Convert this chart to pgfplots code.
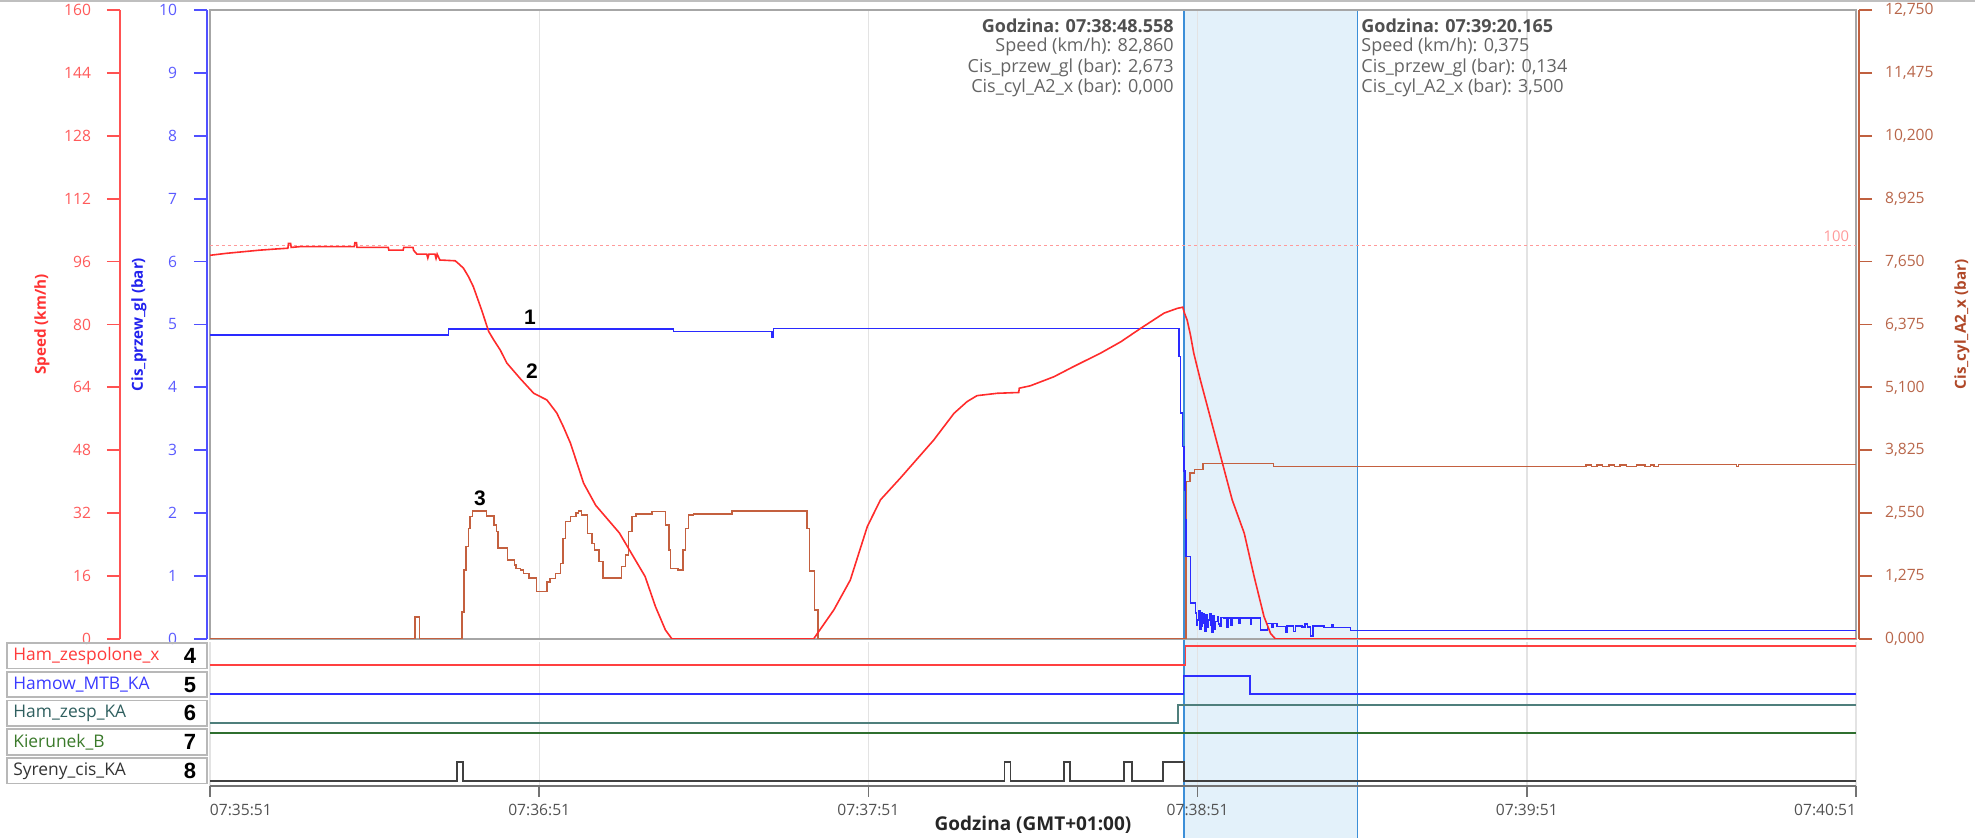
\documentclass[border=0pt]{standalone}
\usepackage{fontspec}
\setmainfont{Open Sans}
\newfontfamily\numfont{Liberation Sans}
\usepackage{pgfplots}
\pgfplotsset{compat=1.18}

\definecolor{spd}{HTML}{FF2B2B}
\definecolor{spdax}{HTML}{FF5252}
\definecolor{spdtick}{HTML}{FF5A5A}
\definecolor{spdlab}{HTML}{FF3333}
\definecolor{blu}{HTML}{2A2AFF}
\definecolor{bluax}{HTML}{5050FF}
\definecolor{blutick}{HTML}{5A5AFF}
\definecolor{blulab}{HTML}{2222EE}
\definecolor{brn}{HTML}{C4603F}
\definecolor{brnax}{HTML}{C0603F}
\definecolor{brntick}{HTML}{B8664A}
\definecolor{brnlab}{HTML}{B04828}
\definecolor{hlfill}{HTML}{E3F1FA}
\definecolor{hlline}{HTML}{3C8FD8}
\definecolor{pinkln}{HTML}{FF9A9A}
\definecolor{chred}{HTML}{FF4040}
\definecolor{chblue}{HTML}{2E2EFF}
\definecolor{chteal}{HTML}{4F7F7C}
\definecolor{chgreen}{HTML}{2F6F2F}
\definecolor{chgray}{HTML}{404040}
\definecolor{tipb}{HTML}{505050}
\definecolor{tip}{HTML}{646464}

\pgfplotsset{
  base/.style={scale only axis, width=823pt, xmin=0, xmax=300},
  deco/.style={scale only axis, width=10pt, height=314.5pt, xmin=0, xmax=1,
    axis x line=none, tick align=outside, major tick length=6.5pt,
    /pgf/number format/assume math mode=true,
    yticklabel style={font=\fontsize{7.8}{9}\selectfont}},
}
\newcommand\tickfont{\fontsize{7.8}{9}\selectfont}
\newcommand\tipfont{\fontsize{9}{10}\selectfont}

\begin{document}
\begin{tikzpicture}
\useasboundingbox (-105pt,-99.5pt) rectangle (882.5pt,319.5pt);
\draw[black!25, line width=0.8pt] (-105pt,319pt) -- (882.5pt,319pt);

% cursor range, full height
\begin{axis}[base, at={(0,-99.5pt)}, height=413.5pt, ymin=0, ymax=1, hide axis]
\addplot[fill=hlfill, draw=none] coordinates {(177.558,0) (177.558,1) (209.165,1) (209.165,0)} \closedcycle;
\addplot[hlline, line width=0.8pt] coordinates {(177.558,0) (177.558,1)};
\addplot[hlline, line width=0.8pt] coordinates {(209.165,0) (209.165,1)};
\end{axis}

% frame, grid, limit line
\begin{axis}[base, at={(0,0)}, height=314.5pt, ymin=0, ymax=160,
  axis line style={black!35, line width=0.7pt}, xtick={60,120,180,240}, xticklabels={},
  ytick=\empty, major tick length=0pt, xmajorgrids, grid style={black!11, line width=0.7pt}]
\addplot[pinkln, line width=0.6pt, dash pattern=on 1.6pt off 1.4pt] coordinates {(0,100) (300,100)};
\end{axis}

% Cis_cyl_A2_x
\begin{axis}[base, at={(0,0)}, height=314.5pt, ymin=0, ymax=12.75, hide axis, const plot]
\addplot[brn, line width=0.75pt] coordinates {
(0,0) (37.4,0.45) (38.2,0) (45.9,0.55) (46.3,1.40) (46.7,1.87) (47.1,2.24) (47.4,2.48)
(47.8,2.59) (50.4,2.49) (51.8,2.31) (52.2,2.18) (52.5,1.84) (54.2,1.60) (55.5,1.50)
(55.8,1.43) (56.6,1.40) (57.1,1.33) (58.1,1.24) (59.5,0.96) (61.4,1.16) (62.0,1.23)
(63.0,1.33) (63.9,1.53) (64.3,2.04) (64.8,2.38) (65.7,2.48) (66.7,2.55) (67.2,2.59)
(67.7,2.51) (68.8,2.14) (69.6,1.94) (70.1,1.80) (70.9,1.57) (71.6,1.24) (75.0,1.47)
(75.7,1.70) (76.3,2.18) (76.9,2.48) (77.6,2.53) (80.6,2.58) (83.0,2.31) (83.7,1.80)
(83.9,1.43) (85.3,1.40) (86.2,1.80) (86.7,2.24) (87.2,2.51) (88.1,2.53) (95.1,2.59)
(108.8,2.24) (109.3,1.38) (110.2,0.59) (110.8,0) (177.9,3.19) (178.6,3.36) (179.4,3.44)
(181.0,3.56) (193.8,3.50) (250.8,3.53) (251.8,3.50) (252.8,3.53) (253.8,3.50) (255.0,3.53)
(256.0,3.50) (257.0,3.53) (258.2,3.50) (260.0,3.53) (261.5,3.50) (262.5,3.53) (263.2,3.50)
(264.0,3.54) (278.2,3.50) (278.6,3.54) (300,3.54)};
\end{axis}

% Cis_przew_gl
\begin{axis}[base, at={(0,0)}, height=314.5pt, ymin=0, ymax=10, hide axis, const plot]
\addplot[blu, line width=0.75pt] coordinates {
(0,4.83) (43.5,4.93) (84.5,4.89) (102.4,4.80) (102.7,4.94) (176.6,4.49) (176.9,3.59)
(177.2,3.06) (177.5,2.67) (177.7,2.37) (177.8,1.89) (177.9,1.31) (178.7,0.57) (179.6,0.41)
(179.8,0.22) (180.0,0.30) (180.2,0.45) (180.4,0.15) (180.6,0.42) (180.8,0.20) (180.9,0.25)
(181.1,0.40) (181.3,0.12) (181.5,0.38) (181.7,0.18) (181.9,0.30) (182.2,0.40) (182.4,0.22)
(182.6,0.10) (182.8,0.37) (183.0,0.16) (183.2,0.28) (183.6,0.36) (183.8,0.24) (184.0,0.20)
(184.3,0.34) (184.8,0.33) (185.3,0.18) (185.5,0.33) (186.0,0.22) (186.3,0.33) (187.5,0.25)
(187.8,0.33) (189.0,0.33) (189.6,0.24) (189.8,0.33) (191.5,0.14) (192.7,0.25) (193.6,0.18)
(193.8,0.25) (194.5,0.20) (196.0,0.10) (196.3,0.21) (197.5,0.12) (197.8,0.21) (199.0,0.19)
(199.6,0.24) (200.0,0.19) (200.6,0.05) (201.0,0.21) (203.0,0.18) (204.5,0.22) (204.8,0.18)
(207.9,0.134) (300,0.134)};
\end{axis}

% Speed
\begin{axis}[base, at={(0,0)}, height=314.5pt, ymin=0, ymax=160, hide axis]
\addplot[spd, line width=0.8pt] coordinates {
(0,97.6) (3,98.1) (6,98.5) (9,98.9) (12,99.2) (14.2,99.4) (14.3,100.6) (14.7,100.6)
(14.8,99.6) (16.4,99.8) (26.3,99.8) (26.4,100.8) (26.7,100.8) (26.8,99.6) (32.5,99.6)
(32.6,98.9) (35.2,98.9) (35.3,99.6) (37.0,99.6) (37.1,98.9) (37.7,97.9) (39.5,97.9)
(39.7,96.9) (39.9,97.9) (41.0,97.9) (41.2,96.8) (41.4,97.9) (41.9,96.4) (44.7,96.2)
(45.6,95.1) (46.2,94.3) (47.1,92.2) (48.0,89.6) (49.5,83.7) (50.8,78.2) (51.7,76.1)
(52.9,73.5) (54.1,70.2) (56.5,66.3) (59.0,62.5) (61.4,60.8) (63.2,57.5) (64.4,54.0)
(65.7,49.8) (68.1,39.6) (70.3,34.0) (74.6,27.0) (79.3,15.9) (81.2,8.2) (83.0,2.3)
(84.2,0) (110.0,0) (113.7,7.4) (116.7,15.0) (119.8,28.6) (122.2,35.4) (125.8,40.9)
(131.9,50.6) (135.6,57.4) (138.0,60.4) (139.8,61.9) (143.5,62.5) (147.4,62.7) (147.5,63.8)
(149.5,64.4) (153.8,66.7) (157.4,69.3) (162.3,72.7) (166.0,75.6) (169.6,79.0) (173.9,82.9)
(176.3,84.1) (177.3,84.4) (177.6,82.9) (178.1,81.1) (178.7,77.3) (179.3,72.7) (180.5,65.9)
(186.3,35.4) (188.5,26.9) (190.3,15.9) (192.1,5.7) (193.3,1.4) (194.2,0) (300,0)};
\end{axis}

% y axes
\begin{axis}[deco, at={(-45pt,0)}, axis y line*=left, ymin=0, ymax=160, ytick={0,16,...,160},
  y axis line style={spdax, line width=0.9pt}, ytick style={spdax, line width=0.9pt},
  yticklabel style={text=spdtick, xshift=-4.5pt}]
\addplot[draw=none] coordinates {(0,0)};
\end{axis}
\begin{axis}[deco, at={(-1.5pt,0)}, axis y line*=left, ymin=0, ymax=10, ytick={0,1,...,10},
  y axis line style={bluax, line width=0.9pt}, ytick style={bluax, line width=0.9pt},
  yticklabel style={text=blutick, xshift=-5pt}]
\addplot[draw=none] coordinates {(0,0)};
\end{axis}
\begin{axis}[deco, at={(814.5pt,0)}, axis y line*=right, ymin=0, ymax=12.75,
  ytick={0,1.275,2.55,3.825,5.1,6.375,7.65,8.925,10.2,11.475,12.75}, scaled y ticks=false,
  yticklabel style={text=brntick, xshift=3pt, /pgf/number format/.cd, fixed, fixed zerofill, precision=3, use comma},
  y axis line style={brnax, line width=0.9pt}, ytick style={brnax, line width=0.9pt}]
\addplot[draw=none] coordinates {(0,0)};
\end{axis}

% digital channels
\begin{axis}[base, at={(0,-73.5pt)}, height=72pt, ymin=0, ymax=144, const plot,
  axis x line*=bottom, axis y line=none, x axis line style={black!55, line width=0.8pt},
  xtick={0,60,...,300}, tick align=outside, major tick length=5.5pt,
  xtick style={black!55, line width=0.8pt}, xmajorgrids, grid style={black!11, line width=0.7pt},
  xticklabel={\ifcase\ticknum\rlap{07:35:51}\or 07:36:51\or 07:37:51\or 07:38:51\or 07:39:51\or\llap{07:40:51}\fi},
  xticklabel style={text=black!68, font=\tickfont}]
\addplot[chred, line width=0.8pt, y filter/.expression={121+19*y}] coordinates {(0,0) (177.8,1) (300,1)};
\addplot[chblue, line width=0.8pt, y filter/.expression={92+18*y}] coordinates {(0,0) (177.4,1) (189.5,0) (300,0)};
\addplot[chteal, line width=0.8pt, y filter/.expression={63+18*y}] coordinates {(0,0) (176.4,1) (300,1)};
\addplot[chgreen, line width=0.8pt, y filter/.expression={34+19*y}] coordinates {(0,1) (300,1)};
\addplot[chgray, line width=0.8pt, y filter/.expression={5+19*y}] coordinates {
(0,0) (45.0,1) (46.1,0) (144.8,1) (145.9,0) (155.6,1) (156.7,0) (166.6,1) (168.0,0)
(173.7,1) (177.5,0) (300,0)};
\end{axis}

% axis titles
\node[rotate=90, text=spdlab, font=\bfseries\fontsize{7.6}{9}\selectfont] at (-84pt,157.25pt) {Speed (km/h)};
\node[rotate=90, text=blulab, font=\bfseries\fontsize{7.6}{9}\selectfont] at (-35.5pt,157.25pt) {Cis\_przew\_gl (bar)};
\node[rotate=90, text=brnlab, font=\bfseries\fontsize{7.6}{9}\selectfont] at (876pt,157.25pt) {Cis\_cyl\_A2\_x (bar)};
\node[text=black!85, font=\bfseries\fontsize{9.5}{11}\selectfont] at (411.5pt,-93pt) {Godzina (GMT+01:00)};
\node[anchor=east, text=pinkln, font=\fontsize{7.4}{9}\selectfont, inner sep=0pt] at (819.7pt,201.2pt) {100};

% cursor readouts
\begin{scope}[every node/.style={inner sep=0pt, font=\tipfont, text=tip}]
\node[anchor=east, text=tipb, font=\bfseries\tipfont] at (482pt,306.5pt) {Godzina: 07:38:48.558};
\node[anchor=east] at (482pt,296pt) {Speed (km/h): 82,860};
\node[anchor=east] at (482pt,285.7pt) {Cis\_przew\_gl (bar): 2,673};
\node[anchor=east] at (482pt,275.5pt) {Cis\_cyl\_A2\_x (bar): 0,000};
\node[anchor=west, text=tipb, font=\bfseries\tipfont] at (575.5pt,306.5pt) {Godzina: 07:39:20.165};
\node[anchor=west] at (575.5pt,296pt) {Speed (km/h): 0,375};
\node[anchor=west] at (575.5pt,285.7pt) {Cis\_przew\_gl (bar): 0,134};
\node[anchor=west] at (575.5pt,275.5pt) {Cis\_cyl\_A2\_x (bar): 3,500};
\end{scope}

% trace numbers
\begin{scope}[every node/.style={font=\numfont\bfseries\fontsize{10.5}{12}\selectfont, text=black}]
\node at (160pt,161pt) {1};
\node at (161pt,134pt) {2};
\node at (135pt,70.5pt) {3};
\end{scope}

% channel name boxes
\foreach \i/\name/\col in {0/Ham\_zespolone\_x/FF3B3B, 1/Hamow\_MTB\_KA/3A3AFF,
    2/Ham\_zesp\_KA/2F5F5F, 3/Kierunek\_B/3B7A2B, 4/Syreny\_cis\_KA/333333} {
  \pgfmathsetmacro\yt{-2-14.375*\i}
  \draw[black!28, line width=0.8pt] (-101.5pt,\yt pt) rectangle (-1.5pt,\yt pt-12.75pt);
  \definecolor{chl}{HTML}{\col}
  \node[anchor=west, inner sep=0pt, text=chl, font=\fontsize{8.7}{10}\selectfont] at (-98.5pt,\yt pt-6.4pt) {\name};
  \pgfmathtruncatemacro\num{\i+4}
  \node[inner sep=0pt, font=\numfont\bfseries\fontsize{11}{12}\selectfont] at (-10pt,\yt pt-6.4pt) {\num};
}
\end{tikzpicture}
\end{document}
